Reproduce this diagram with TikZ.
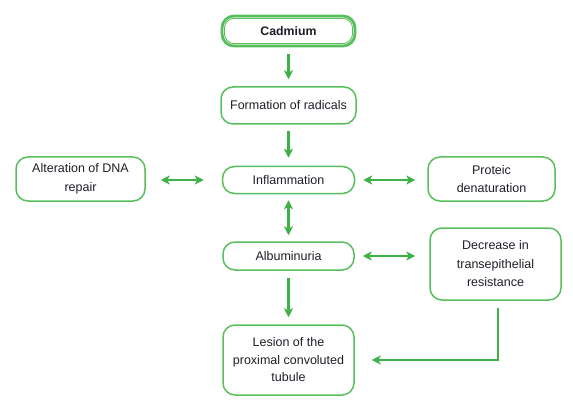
\documentclass[tikz,border=0pt]{standalone}
\usepackage{fontspec}
\setmainfont{Liberation Sans}
\usetikzlibrary{arrows.meta,positioning}
\definecolor{gline}{RGB}{62,178,70}
\definecolor{gbox}{RGB}{88,190,92}
\definecolor{txt}{RGB}{30,30,40}
\tikzset{
  box/.style={draw=gbox,line width=1.5pt,rounded corners=12pt,align=center,inner sep=0pt,
    font=\fontsize{12.5}{18.5}\selectfont,text=txt},
  tip/.tip={Stealth[length=9pt,width=9pt,inset=2.5pt]},
  arr/.style={draw=gline,line width=2.1pt,-tip},
  darr/.style={draw=gline,line width=2.1pt,tip-tip}
}
\begin{document}
\begin{tikzpicture}[x=1pt,y=-1pt]
\useasboundingbox (0,0) rectangle (573,409);
\node[box,minimum width=133pt,minimum height=30pt,line width=2.8pt,font=\bfseries\fontsize{12.3}{14.5}\selectfont] (cad) at (288.5,31) {Cadmium};
\draw[gbox,line width=0.9pt,rounded corners=10pt] ([shift={(3.8pt,-3.8pt)}]cad.north west) rectangle ([shift={(-3.8pt,3.8pt)}]cad.south east);
\node[box,minimum width=135pt,minimum height=37pt] (form) at (288.5,105.5) {Formation of radicals};
\node[box,minimum width=132pt,minimum height=27pt] (infl) at (288.5,180) {Inflammation};
\node[box,minimum width=129pt,minimum height=44pt] (alt) at (80.5,179) {Alteration of DNA\\repair};
\node[box,minimum width=127pt,minimum height=44pt] (prot) at (491.5,179) {Proteic\\denaturation};
\node[box,minimum width=131pt,minimum height=28pt] (alb) at (288.5,256) {Albuminuria};
\node[box,minimum width=131pt,minimum height=72pt] (dec) at (495.5,264) {Decrease in\\transepithelial\\resistance};
\node[box,minimum width=131pt,minimum height=70pt,font=\fontsize{12.5}{17.5}\selectfont] (les) at (288.5,360) {Lesion of the\\proximal convoluted\\tubule};
\draw[arr] ([yshift=-7pt]cad.south) -- ([yshift=7pt]form.north);
\draw[arr] ([yshift=-6pt]form.south) -- ([yshift=8pt]infl.north);
\draw[darr] ([xshift=-18pt]infl.west) -- ([xshift=15pt]alt.east |- infl.west);
\draw[darr] ([xshift=8pt]infl.east) -- ([xshift=-12pt]prot.west |- infl.east);
\draw[darr] ([yshift=-6pt]infl.south) -- ([yshift=6pt]alb.north);
\draw[darr] ([xshift=8pt]alb.east) -- ([xshift=-14pt]dec.west |- alb.east);
\draw[arr] ([yshift=-7pt]alb.south) -- ([yshift=7pt]les.north);
\coordinate (bend) at ([xshift=2.5pt]dec.south |- les.east);
\draw[arr] ([xshift=2.5pt,yshift=-7pt]dec.south) -- (bend) -- ([xshift=17pt]les.east |- bend);
\end{tikzpicture}
\end{document}
